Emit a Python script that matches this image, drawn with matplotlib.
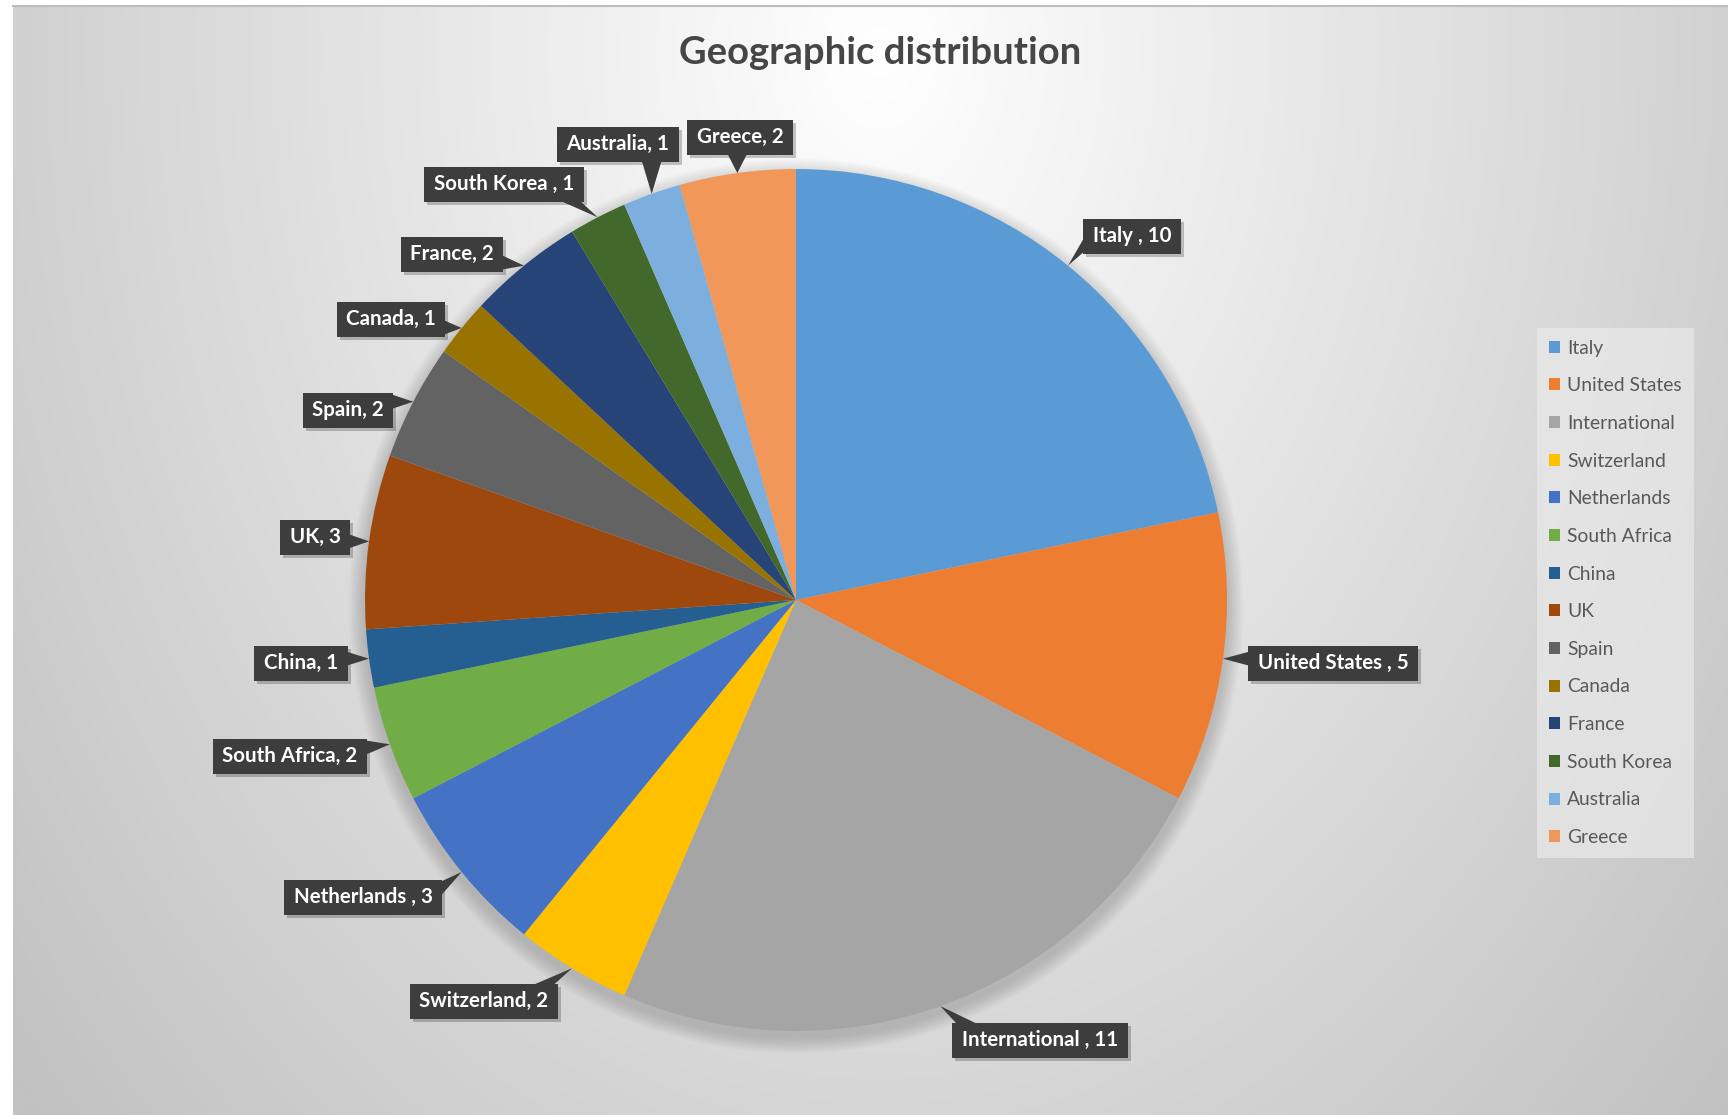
import numpy as np
import matplotlib
matplotlib.use('Agg')
import matplotlib.pyplot as plt
from matplotlib.patches import Rectangle, Polygon, Circle

# ---------------- data ----------------
categories = ['Italy ', 'United States ', 'International ', 'Switzerland', 'Netherlands ',
              'South Africa', 'China', 'UK', 'Spain', 'Canada', 'France', 'South Korea ',
              'Australia', 'Greece']
values = [10, 5, 11, 2, 3, 2, 1, 3, 2, 1, 2, 1, 1, 2]
colors = ['#5B9BD5', '#ED7D31', '#A5A5A5', '#FFC000', '#4472C4', '#70AD47', '#255E91',
          '#9E480E', '#636363', '#997300', '#264478', '#43682B', '#7CAFDD', '#F1975A']
title = 'Geographic distribution'

# ---------------- layout (pixels, from top-left) ----------------
W, H = 1728, 1115
label_pos = [(1132, 236), (1333, 663), (1040, 1040), (484, 1001), (363, 897), (290, 756),
             (301, 663), (315, 537), (348, 410), (391, 319), (452, 254), (504, 184),
             (618, 144), (740, 137)]
cx, cy, R = 796, 600, 431
FONT = ['Lato', 'DejaVu Sans']
plt.rcParams['font.family'] = FONT

fig = plt.figure(figsize=(W / 100, H / 100), dpi=100)
fig.patch.set_facecolor('white')
ax = fig.add_axes([0, 0, 1, 1])

# background radial gradient
x0, y0 = 13, 6
gx = np.linspace(x0, W, 500)
gy = np.linspace(y0, H, 330)
X, Y = np.meshgrid(gx, gy)
d = np.clip(np.sqrt(((X - 880) / 1130) ** 2 + ((Y - 50) / 1570) ** 2), 0, 1)
v = 1 - d * (1 - 194 / 255)
img = np.dstack([v, v, v])
ax.imshow(img, extent=(x0, W, 0, H - y0), origin='upper', aspect='auto', zorder=0,
          interpolation='bilinear')
ax.plot([x0, W], [H - y0, H - y0], color='#bdbdbd', lw=1.5, zorder=0.2)

# pie shadow
for k in range(10):
    ax.add_patch(Circle((cx, H - cy - 6), R + 2 + k * 1.6, color='black', alpha=0.016,
                        lw=0, zorder=0.5))

wedges, _ = ax.pie(values, colors=colors, startangle=90, counterclock=False,
                   center=(cx, H - cy), radius=R, wedgeprops=dict(linewidth=0, zorder=1))
ax.set_xlim(0, W)
ax.set_ylim(0, H)
ax.set_aspect('auto')
ax.axis('off')

ax.text(880, H - 53, title, ha='center', va='center', fontsize=27.5, fontweight='bold',
        color='#464646', zorder=6)

# data labels with callouts
fig.canvas.draw()
renderer = fig.canvas.get_renderer()
box_col = '#3d3d3d'
for w, cat, val, (lx, ly) in zip(wedges, categories, values, label_pos):
    mid = np.radians((w.theta1 + w.theta2) / 2)
    tx = cx + R * np.cos(mid)
    ty = (H - cy) + R * np.sin(mid)
    t = ax.text(lx, H - ly, f'{cat}, {val}', ha='center', va='center', color='white',
                fontsize=14.8, fontweight='bold', zorder=6)
    bb = t.get_window_extent(renderer)
    bw = bb.width + 19
    bh = 35
    bx0, bx1 = lx - bw / 2, lx + bw / 2
    by0, by1 = H - ly - bh / 2, H - ly + bh / 2
    ox = bx0 - tx if tx < bx0 else (tx - bx1 if tx > bx1 else 0)
    oy = by0 - ty if ty < by0 else (ty - by1 if ty > by1 else 0)
    if ox > oy:
        ex = bx0 + 1 if tx < bx0 else bx1 - 1
        c = np.clip(ty, by0 + 9, by1 - 9)
        poly = [(ex, c - 7), (ex, c + 7), (tx, ty)]
    else:
        ey = by0 + 1 if ty < by0 else by1 - 1
        c = np.clip(tx, bx0 + 14, bx1 - 14)
        poly = [(c - 10, ey), (c + 10, ey), (tx, ty)]
    ax.add_patch(Rectangle((bx0 + 3, by0 - 3), bw, bh, color='black', alpha=0.22, lw=0,
                           zorder=3.8))
    ax.add_patch(Rectangle((bx0, by0), bw, bh, color=box_col, lw=0, zorder=4))
    ax.add_patch(Polygon(poly, closed=True, color=box_col, lw=0, zorder=4))

# legend
leg = ax.legend(wedges, [c.strip() for c in categories], loc='upper left',
                bbox_to_anchor=(1537 / W, 1 - 328 / H), bbox_transform=ax.transAxes,
                fontsize=13.9, labelcolor='#595959', frameon=True, fancybox=False,
                handlelength=0.57, handleheight=0.57, handletextpad=0.4,
                labelspacing=1.07, borderpad=0.6, borderaxespad=0)
fr = leg.get_frame()
fr.set_facecolor('#eaeaea')
fr.set_alpha(0.7)
fr.set_edgecolor('none')
leg.set_zorder(7)

fig.savefig('out.png', dpi=100)
